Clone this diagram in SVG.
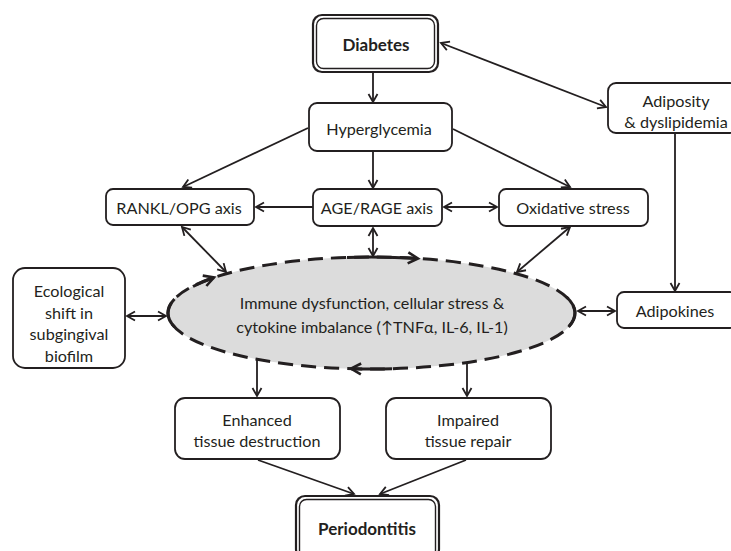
<svg xmlns="http://www.w3.org/2000/svg" width="731" height="551" viewBox="0 0 731 551">
<defs>
<marker id="ah" markerUnits="userSpaceOnUse" markerWidth="14" markerHeight="14" refX="10" refY="6" orient="auto-start-reverse">
<path d="M2,1.5 L10,6 L2,10.5" fill="none" stroke="#231f20" stroke-width="1.8" stroke-linejoin="miter"/>
</marker>
<marker id="ahb" markerUnits="userSpaceOnUse" markerWidth="16" markerHeight="16" refX="12" refY="7" orient="auto">
<path d="M2,1.5 L12,7 L2,12.5" fill="none" stroke="#231f20" stroke-width="2.6"/>
</marker>
</defs>
<style>
.box{fill:#fff;stroke:#231f20;stroke-width:1.8}
.dbl{fill:#fff;stroke:#231f20;stroke-width:2.2}
.dbli{fill:none;stroke:#231f20;stroke-width:1.4}
.t{font-family:Lato,"Open Sans","Liberation Sans",sans-serif;font-size:16.2px;fill:#231f20;text-anchor:middle;dominant-baseline:central}
.b{font-weight:bold;font-size:17px}
.c{fill:none;stroke:#231f20;stroke-width:1.8}
.e{stroke:#231f20;stroke-width:3;fill:none}
</style>
<rect width="731" height="551" fill="#fff"/>

<g id="connectors">
<line class="c" x1="373" y1="72" x2="373" y2="102" marker-end="url(#ah)"/>
<line class="c" x1="441" y1="43" x2="606" y2="107" marker-start="url(#ah)" marker-end="url(#ah)"/>
<line class="c" x1="308" y1="128" x2="183" y2="187" marker-end="url(#ah)"/>
<line class="c" x1="373" y1="151" x2="373" y2="188" marker-end="url(#ah)"/>
<line class="c" x1="453" y1="129" x2="570" y2="187" marker-end="url(#ah)"/>
<line class="c" x1="313" y1="207" x2="256" y2="207" marker-end="url(#ah)"/>
<line class="c" x1="444" y1="207" x2="497" y2="207" marker-start="url(#ah)" marker-end="url(#ah)"/>
<line class="c" x1="182" y1="227" x2="226" y2="272" marker-start="url(#ah)" marker-end="url(#ah)"/>
<line class="c" x1="373" y1="228" x2="373" y2="256" marker-start="url(#ah)" marker-end="url(#ah)"/>
<line class="c" x1="570" y1="227" x2="517" y2="272" marker-start="url(#ah)" marker-end="url(#ah)"/>
<line class="c" x1="675" y1="133" x2="675" y2="291" marker-end="url(#ah)"/>
<line class="c" x1="127" y1="316" x2="166" y2="316" marker-start="url(#ah)" marker-end="url(#ah)"/>
<line class="c" x1="578" y1="311" x2="615" y2="311" marker-start="url(#ah)" marker-end="url(#ah)"/>
<line class="c" x1="257" y1="359" x2="257" y2="396" marker-end="url(#ah)"/>
<line class="c" x1="467" y1="362" x2="467" y2="396" marker-end="url(#ah)"/>
<line class="c" x1="258" y1="460" x2="354" y2="494" marker-end="url(#ah)"/>
<line class="c" x1="466" y1="460" x2="380" y2="494" marker-end="url(#ah)"/>
</g>

<g id="diabetes">
<rect class="dbl" x="313" y="15" width="125" height="57" rx="9"/>
<rect class="dbli" x="316.5" y="18.5" width="118" height="50" rx="7"/>
<text class="t b" x="376" y="44">Diabetes</text>
</g>

<g id="hyperglycemia">
<rect class="box" x="309" y="103" width="143" height="48" rx="8"/>
<text class="t" x="379" y="128">Hyperglycemia</text>
</g>

<g id="adiposity">
<rect class="box" x="608" y="83" width="130" height="50" rx="8"/>
<text class="t" x="676" y="100">Adiposity</text>
<text class="t" x="676" y="121">&amp; dyslipidemia</text>
</g>

<g id="rankl">
<rect class="box" x="106" y="189" width="148" height="36" rx="7"/>
<text class="t" x="179" y="207">RANKL/OPG axis</text>
</g>

<g id="agerage">
<rect class="box" x="313" y="189" width="129" height="37" rx="7"/>
<text class="t" x="377" y="207">AGE/RAGE axis</text>
</g>

<g id="oxidative">
<rect class="box" x="499" y="189" width="149" height="37" rx="7"/>
<text class="t" x="573" y="207">Oxidative stress</text>
</g>

<g id="ecological">
<rect class="box" x="13" y="268" width="112" height="100" rx="12"/>
<text class="t" x="69" y="290">Ecological</text>
<text class="t" x="69" y="312">shift in</text>
<text class="t" x="69" y="333">subgingival</text>
<text class="t" x="69" y="355">biofilm</text>
</g>

<g id="immune">
<ellipse cx="371.5" cy="313" rx="203.5" ry="56" fill="#dcdcdc" stroke="#231f20" stroke-width="3" stroke-dasharray="15,8"/>
<path class="e" d="M347,257.4 A203.5,56 0 0 1 418,258.5" marker-end="url(#ahb)"/>
<path class="e" d="M193,286.5 A203.5,56 0 0 1 214,277.5" marker-end="url(#ahb)"/>
<path class="e" d="M392,368.7 A203.5,56 0 0 1 351,368.7" marker-end="url(#ahb)"/>
<path class="e" d="M174.5,299 A203.5,56 0 0 0 174.5,327"/>
<path class="e" d="M566.5,297 A203.5,56 0 0 1 568.5,327"/>
<text class="t" x="372" y="302">Immune dysfunction, cellular stress &amp;</text>
<text class="t" x="372" y="326">cytokine imbalance (↑TNFα, IL-6, IL-1)</text>
</g>

<g id="adipokines">
<rect class="box" x="617" y="292" width="120" height="36" rx="7"/>
<text class="t" x="675" y="310">Adipokines</text>
</g>

<g id="enhanced">
<rect class="box" x="175" y="398" width="165" height="61" rx="10"/>
<text class="t" x="257" y="419">Enhanced</text>
<text class="t" x="257" y="440">tissue destruction</text>
</g>

<g id="impaired">
<rect class="box" x="386" y="398" width="165" height="61" rx="10"/>
<text class="t" x="468" y="419">Impaired</text>
<text class="t" x="468" y="440">tissue repair</text>
</g>

<g id="periodontitis">
<rect class="dbl" x="296" y="496" width="143" height="62" rx="9"/>
<rect class="dbli" x="299.5" y="499.5" width="136" height="60" rx="7"/>
<text class="t b" x="367" y="528">Periodontitis</text>
</g>
</svg>
